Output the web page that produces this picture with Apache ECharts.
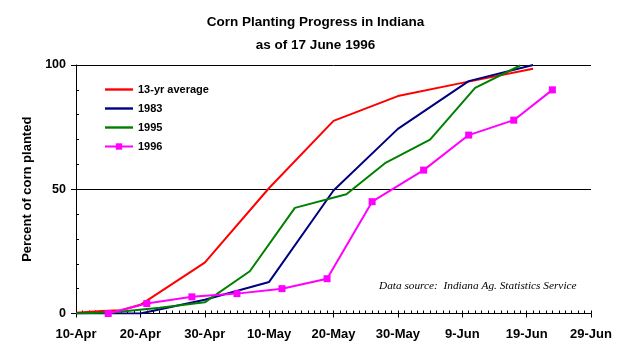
<!DOCTYPE html>
<html>
<head>
<meta charset="utf-8">
<script src="https://cdn.jsdelivr.net/npm/echarts@6/dist/echarts.min.js"></script>
<style>
html,body{margin:0;padding:0;background:#fff;}
#chart{width:631px;height:359px;}
</style>
</head>
<body>
<div id="chart"></div>
<script>
// x values are days counted from 10 April 1996
const tickLabels = ['10-Apr','20-Apr','30-Apr','10-May','20-May','30-May','9-Jun','19-Jun','29-Jun'];
const yTickValues = [0, 50, 100];

const avgDays   = [0, 4, 7, 10, 20, 30, 40, 50, 60, 71];
const avgValues = [0.3, 1, 1.3, 3.5, 20.5, 50.5, 77.5, 87.5, 92.8, 98.5];

const y1983Days   = [0, 10, 20, 30, 40, 50, 61, 71];
const y1983Values = [0, 0, 5.5, 12.7, 49.5, 74.3, 93.5, 100];

const y1995Days   = [0, 6, 13, 20, 27, 34, 42, 48, 55, 62, 69];
const y1995Values = [0, 0.5, 2.3, 4.5, 17, 42.5, 48, 60.5, 70, 90.8, 99.8];

const y1996Days   = [5, 11, 18, 25, 32, 39, 46, 54, 61, 68, 74];
const y1996Values = [0, 4, 6.7, 8, 10, 14, 45, 57.7, 71.8, 77.8, 90];

const seriesNames = ['13-yr average', '1983', '1995', '1996'];

function pairs(xs, ys) { return xs.map((x, i) => [x, ys[i]]); }

const chart = echarts.init(document.getElementById('chart'), null, {renderer: 'canvas'});
const black = '#000';
const sans = '"Liberation Sans", Arial, sans-serif';
const lineIcon = 'path://M0,0 L28,0 L28,2.4 L0,2.4 Z';

chart.setOption({
  animation: false,
  backgroundColor: '#fff',
  title: {
    text: 'Corn Planting Progress in Indiana\nas of 17 June 1996',
    left: 'center',
    top: 6,
    textStyle: {fontFamily: sans, fontSize: 13.5, fontWeight: 'bold', color: black, lineHeight: 23}
  },
  legend: {
    orient: 'vertical',
    left: 104,
    top: 84,
    padding: 0,
    itemWidth: 28,
    itemHeight: 8,
    itemGap: 8,
    data: [
      {name: seriesNames[0], icon: lineIcon},
      {name: seriesNames[1], icon: lineIcon},
      {name: seriesNames[2], icon: lineIcon},
      {name: seriesNames[3]}
    ],
    textStyle: {fontFamily: sans, fontSize: 11, fontWeight: 'bold', color: black}
  },
  grid: {left: 76, right: 40, top: 65, bottom: 45.5, containLabel: false},
  xAxis: [
    {
      type: 'value', min: 0, max: 80, interval: 10, position: 'bottom',
      axisLine: {show: true, lineStyle: {color: black, width: 1}},
      axisTick: {show: true, inside: true, length: 3, lineStyle: {color: black}},
      minorTick: {show: true, splitNumber: 10, length: 3, lineStyle: {color: black}},
      axisLabel: {
        margin: 14, color: black, fontFamily: sans, fontSize: 13, fontWeight: 'bold',
        formatter: v => tickLabels[Math.round(v / 10)]
      },
      splitLine: {show: false}
    },
    {
      type: 'value', min: 0, max: 80, interval: 10, position: 'bottom', offset: 0,
      axisLine: {show: false},
      axisTick: {show: true, inside: false, length: 4, lineStyle: {color: black}},
      axisLabel: {show: false},
      splitLine: {show: false}
    }
  ],
  yAxis: [
    {
      type: 'value', min: 0, max: 100, interval: 50, position: 'left',
      name: 'Percent of corn planted', nameLocation: 'middle', nameGap: 38, nameRotate: 90,
      nameTextStyle: {fontFamily: sans, fontSize: 13, fontWeight: 'bold', color: black},
      axisLine: {show: true, lineStyle: {color: black, width: 1}},
      axisTick: {show: true, inside: true, length: 3, lineStyle: {color: black}},
      minorTick: {show: true, splitNumber: 5, length: 3, lineStyle: {color: black}},
      axisLabel: {
        margin: 10, color: black, fontFamily: sans, fontSize: 12.5, fontWeight: 'bold',
        formatter: v => (yTickValues.indexOf(v) >= 0 ? String(v) : '')
      },
      splitLine: {show: true, lineStyle: {color: black, width: 1}}
    },
    {
      type: 'value', min: 0, max: 100, interval: 50, position: 'left', offset: 0,
      axisLine: {show: false},
      axisTick: {show: true, inside: false, length: 5, lineStyle: {color: black}},
      axisLabel: {show: false},
      splitLine: {show: false}
    }
  ],
  graphic: [{
    type: 'text',
    left: 379,
    top: 281,
    style: {
      text: 'Data source:  Indiana Ag. Statistics Service',
      font: 'italic 11.3px "Liberation Serif", "Times New Roman", serif',
      fill: black
    }
  }],
  series: [
    {name: seriesNames[0], type: 'line', data: pairs(avgDays, avgValues), symbol: 'none',
     lineStyle: {color: '#ff0000', width: 2}, itemStyle: {color: '#ff0000'}},
    {name: seriesNames[1], type: 'line', data: pairs(y1983Days, y1983Values), symbol: 'none',
     lineStyle: {color: '#000080', width: 2}, itemStyle: {color: '#000080'}},
    {name: seriesNames[2], type: 'line', data: pairs(y1995Days, y1995Values), symbol: 'none',
     lineStyle: {color: '#008000', width: 2}, itemStyle: {color: '#008000'}},
    {name: seriesNames[3], type: 'line', data: pairs(y1996Days, y1996Values), symbol: 'rect', symbolSize: 7,
     showAllSymbol: true,
     lineStyle: {color: '#ff00ff', width: 2}, itemStyle: {color: '#ff00ff'}}
  ]
});
</script>
</body>
</html>
